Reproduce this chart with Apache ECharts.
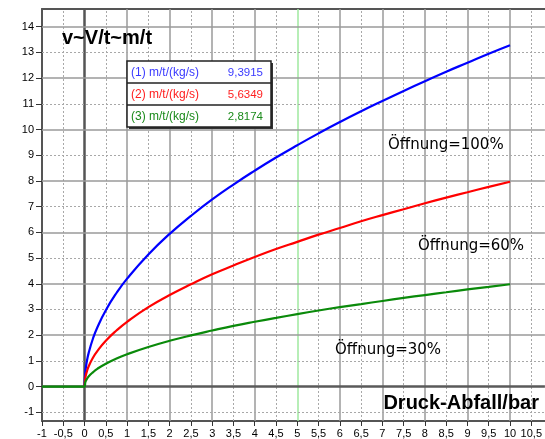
<!DOCTYPE html>
<html>
<head>
<meta charset="utf-8">
<script src="https://cdn.jsdelivr.net/npm/echarts@6/dist/echarts.min.js"></script>
<style>
html,body{margin:0;padding:0;background:#fff;}
#chart{width:545px;height:439px;}
</style>
</head>
<body>
<div id="chart"></div>
<script>
// ---- data ----
const xValues     = [-1,   0,    0.02, 0.05, 0.1,  0.2,  0.3,  0.5,  0.75, 1,    1.5,  2,    2.5,  3,    3.5,  4,    4.5,  5,    5.5,  6,     6.5,   7,     7.5,   8,     8.5,   9,     9.5,   10];
const blueValues  = [null, 0,    0.59, 0.94, 1.33, 1.88, 2.30, 2.97, 3.64, 4.20, 5.14, 5.94, 6.64, 7.28, 7.86, 8.40, 8.91, 9.39, 9.85, 10.29, 10.71, 11.11, 11.50, 11.88, 12.25, 12.60, 12.95, 13.28];
const redValues   = [null, 0,    0.36, 0.56, 0.80, 1.13, 1.38, 1.78, 2.18, 2.52, 3.09, 3.56, 3.98, 4.37, 4.71, 5.04, 5.35, 5.63, 5.91, 6.17,  6.43,  6.67,  6.90,  7.13,  7.35,  7.56,  7.77,  7.97];
const greenValues = [0,    0,    0.18, 0.28, 0.40, 0.56, 0.69, 0.89, 1.09, 1.26, 1.54, 1.78, 1.99, 2.18, 2.36, 2.52, 2.67, 2.82, 2.96, 3.09,  3.21,  3.33,  3.45,  3.56,  3.67,  3.78,  3.88,  3.98];

const xTickValues = [-1,-0.5,0,0.5,1,1.5,2,2.5,3,3.5,4,4.5,5,5.5,6,6.5,7,7.5,8,8.5,9,9.5,10,10.5];
const yTickValues = [-1,0,1,2,3,4,5,6,7,8,9,10,11,12,13,14];

const legendLabels = ['(1) m/t/(kg/s)', '(2) m/t/(kg/s)', '(3) m/t/(kg/s)'];
const legendValues = ['9,3915', '5,6349', '2,8174'];
const curveNotes   = ['Öffnung=100%', 'Öffnung=60%', 'Öffnung=30%'];
const titleText = 'v~V/t~m/t';
const axisTitle = 'Druck-Abfall/bar';

// ---- styles ----
const colors = ['#0000ff', '#ff0000', '#0a8a0a'];
const textColors = ['#3a3aff', '#ff2020', '#1a8a1a'];
const fmt = v => String(v).replace('.', ',');

function pairs(ys){ return xValues.map((x,i)=>[x, ys[i]]); }

const gridLineData = [];
xTickValues.forEach(v => {
  if (v === -1) return;
  let ls;
  if (v === 0) ls = {color:'#555', width:2.5, type:'solid'};
  else if (v === 5) ls = {color:'#9fe89f', width:1.5, type:'solid'};
  else if (Number.isInteger(v)) ls = {color:'#9a9a9a', width:1.5, type:'solid'};
  else ls = {color:'#a8a8a8', width:1, type:[2,2]};
  gridLineData.push({xAxis:v, lineStyle:ls});
});
yTickValues.forEach(v => {
  let ls;
  if (v === 0) ls = {color:'#5a5a5a', width:2.5, type:'solid'};
  else if (v % 2 === 0) ls = {color:'#9a9a9a', width:1.5, type:'solid'};
  else ls = {color:'#a8a8a8', width:1, type:[2,2]};
  gridLineData.push({yAxis:v, lineStyle:ls});
});

const chart = echarts.init(document.getElementById('chart'), null, {renderer:'canvas'});

const legendTop = 61, rowH = 22, boxL = 127, boxW = 144;
const graphics = [];
graphics.push({type:'rect', z:100, shape:{x:boxL+2, y:legendTop+2, width:boxW, height:rowH*3}, style:{fill:'#333'}});
graphics.push({type:'rect', z:101, shape:{x:boxL, y:legendTop, width:boxW, height:rowH*3}, style:{fill:'#fff', stroke:'#222', lineWidth:1.5}});
for (let i=1;i<3;i++) graphics.push({type:'line', z:102, shape:{x1:boxL, y1:legendTop+rowH*i, x2:boxL+boxW, y2:legendTop+rowH*i}, style:{stroke:'#222', lineWidth:1.5}});
legendLabels.forEach((t,i)=>{
  graphics.push({type:'text', z:103, x:boxL+4, y:legendTop+rowH*i+rowH/2+1, style:{text:t, fill:textColors[i], font:'12px "Liberation Sans", Arial, sans-serif', textVerticalAlign:'middle', verticalAlign:'middle'}});
  graphics.push({type:'text', z:103, x:boxL+boxW-8, y:legendTop+rowH*i+rowH/2+1, style:{text:legendValues[i], fill:textColors[i], font:'11.5px "Liberation Sans", Arial, sans-serif', textAlign:'right', align:'right', textVerticalAlign:'middle', verticalAlign:'middle'}});
});
graphics.push({type:'text', z:103, x:62, y:38, style:{text:titleText, fill:'#000', font:'bold 20px "Liberation Sans", Arial, sans-serif', textVerticalAlign:'middle', verticalAlign:'middle'}});
graphics.push({type:'text', z:103, x:539, y:403, style:{text:axisTitle, fill:'#000', font:'bold 20px "Liberation Sans", Arial, sans-serif', textAlign:'right', align:'right', textVerticalAlign:'middle', verticalAlign:'middle'}});
const notePos = [[388,145],[418,246],[335,350]];
curveNotes.forEach((t,i)=>{
  graphics.push({type:'text', z:103, x:notePos[i][0], y:notePos[i][1], style:{text:t, fill:'#000', font:'15px "DejaVu Sans", sans-serif', textVerticalAlign:'middle', verticalAlign:'middle'}});
});

const option = {
  animation:false,
  backgroundColor:'#fff',
  grid:{left:42, top:9, right:0, bottom:18, containLabel:false},
  xAxis:[{
    type:'value', min:-1, max:10.82, position:'bottom',
    axisLine:{show:true, onZero:false, lineStyle:{color:'#555', width:2}},
    axisTick:{show:true, length:5, customValues:xTickValues, lineStyle:{color:'#333', width:1}},
    axisLabel:{show:true, customValues:xTickValues, formatter:fmt, margin:7, color:'#000', fontSize:11, fontFamily:'"Liberation Sans", Arial, sans-serif'},
    splitLine:{show:false}
  },{
    type:'value', min:-1, max:10.82, position:'top',
    axisLine:{show:true, onZero:false, lineStyle:{color:'#555', width:2}},
    axisTick:{show:false}, axisLabel:{show:false}, splitLine:{show:false}
  }],
  yAxis:{
    type:'value', min:-1.34, max:14.69,
    axisLine:{show:true, onZero:false, lineStyle:{color:'#555', width:2}},
    axisTick:{show:true, length:6, customValues:yTickValues, lineStyle:{color:'#333', width:1}},
    axisLabel:{show:true, customValues:yTickValues, formatter:fmt, margin:8, color:'#000', fontSize:11, fontFamily:'"Liberation Sans", Arial, sans-serif'},
    splitLine:{show:false}
  },
  graphic:graphics,
  series:[
    {type:'line', data:[], z:1, silent:true,
     markLine:{silent:true, symbol:['none','none'], label:{show:false}, animation:false, data:gridLineData}},
    {type:'line', name:'1', data:pairs(blueValues), smooth:true, showSymbol:false, symbol:'none', z:5, lineStyle:{color:colors[0], width:2.2}, itemStyle:{color:colors[0]}},
    {type:'line', name:'2', data:pairs(redValues), smooth:true, showSymbol:false, symbol:'none', z:6, lineStyle:{color:colors[1], width:2.2}, itemStyle:{color:colors[1]}},
    {type:'line', name:'3', data:pairs(greenValues), smooth:true, showSymbol:false, symbol:'none', z:7, lineStyle:{color:colors[2], width:2.2}, itemStyle:{color:colors[2]}}
  ]
};
chart.setOption(option);
</script>
</body>
</html>
